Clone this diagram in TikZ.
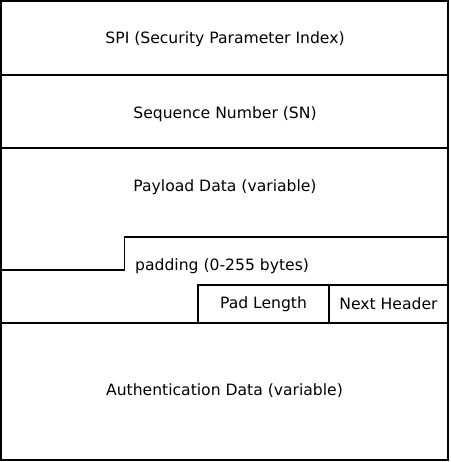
\documentclass[tikz,border=0pt]{standalone}
\usepackage{fontspec}
\setmainfont{DejaVu Sans}
\begin{document}
\begin{tikzpicture}[x=1pt,y=-1pt,
  frame/.style={draw=black,line width=1.3pt},
  lbl/.style={font=\fontsize{15.6}{18}\selectfont,inner sep=0pt}]
\useasboundingbox (0,0) rectangle (450,462);
\draw[frame] (1,1) rectangle (448,460);
\draw[frame] (1,75) -- (448,75);
\draw[frame] (1,148) -- (448,148);
\draw[frame] (1,270) -- (124.5,270) -- (124.5,237) -- (448,237);
\draw[frame] (198,323) -- (198,285) -- (448,285);
\draw[frame] (329,285) -- (329,323);
\draw[frame] (1,323) -- (448,323);
\node[lbl] (spi) at (225,39) {SPI (Security Parameter Index)};
\node[lbl] (sn) at (225,114) {Sequence Number (SN)};
\node[lbl] (pd) at (225,187) {Payload Data (variable)};
\node[lbl,anchor=west] (pad) at (135,266) {padding (0-255 bytes)};
\node[lbl] (pl) at (263.5,304) {Pad Length};
\node[lbl] (nh) at (388.5,304) {Next Header};
\node[lbl] (auth) at (224.5,391) {Authentication Data (variable)};
\end{tikzpicture}
\end{document}
